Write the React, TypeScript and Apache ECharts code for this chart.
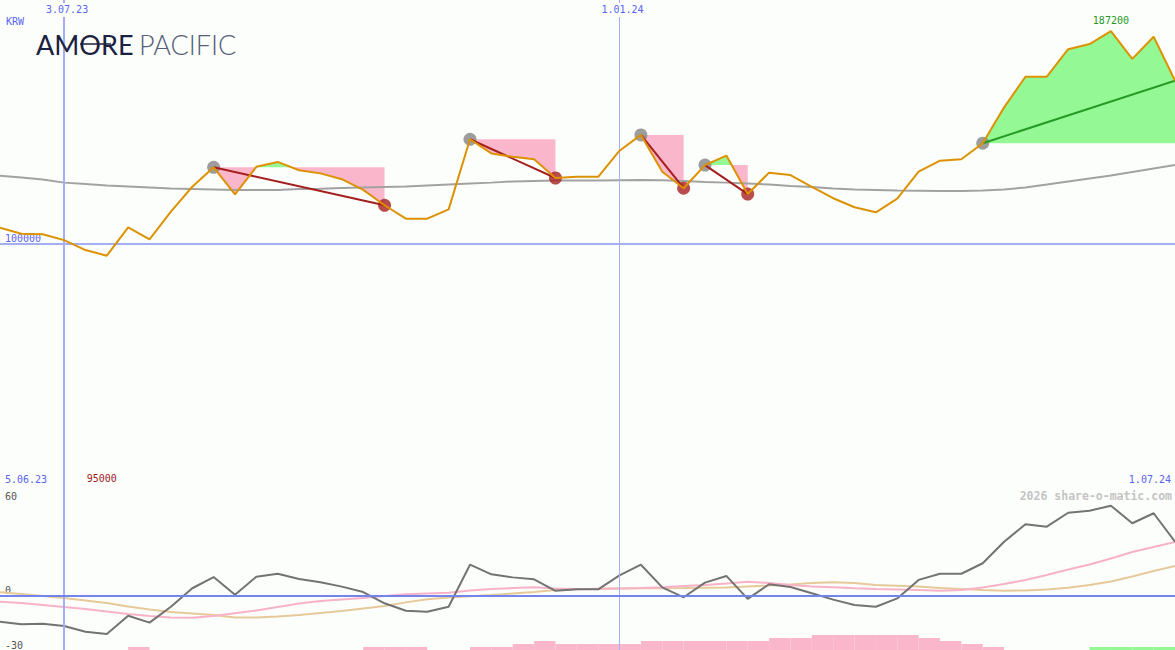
import React, { useEffect, useRef } from "react";
import * as echarts from "echarts";

// ---------- data ----------
const dates = [
  "12.06.23", "19.06.23", "26.06.23", "3.07.23", "10.07.23", "17.07.23", "24.07.23", "31.07.23",
  "7.08.23", "14.08.23", "21.08.23", "28.08.23", "4.09.23", "11.09.23", "18.09.23", "25.09.23",
  "2.10.23", "9.10.23", "16.10.23", "23.10.23", "30.10.23", "6.11.23", "13.11.23", "20.11.23",
  "27.11.23", "4.12.23", "11.12.23", "18.12.23", "25.12.23", "1.01.24", "8.01.24", "15.01.24",
  "22.01.24", "29.01.24", "5.02.24", "12.02.24", "19.02.24", "26.02.24", "4.03.24", "11.03.24",
  "18.03.24", "25.03.24", "1.04.24", "8.04.24", "15.04.24", "22.04.24", "29.04.24", "6.05.24",
  "13.05.24", "20.05.24", "27.05.24", "3.06.24", "10.06.24", "17.06.24", "24.06.24", "1.07.24",
];

const price = [
  106500, 104000, 103800, 101400, 97300, 95000, 106600, 101700, 113100, 123300,
  131300, 120200, 131500, 133500, 130100, 128800, 126400, 122000, 115700, 110200,
  110200, 114000, 142800, 137000, 135600, 134600, 126900, 127400, 127400, 138100,
  144600, 129500, 122700, 132200, 136100, 120300, 129100, 128100, 123300, 118600,
  114900, 112800, 118400, 129500, 134000, 134600, 141200, 155900, 168500, 168500,
  179800, 181900, 187200, 175800, 184900, 166900,
];

const movingAverage = [
  127800, 127100, 126300, 125000, 124400, 123800, 123400, 123000, 122600, 122400,
  122200, 122000, 122000, 122000, 122400, 122500, 122800, 123000, 123200, 123400,
  123800, 124200, 124600, 125000, 125500, 125700, 125900, 125900, 125900, 126000,
  126100, 126000, 125700, 125300, 125000, 124600, 124200, 123600, 123200, 122600,
  122200, 122000, 121800, 121700, 121600, 121600, 121800, 122200, 123000, 124200,
  125500, 126700, 127900, 129400, 130800, 132200,
];

const oscillator = [
  -14.4, -15.8, -15.5, -16.7, -19.9, -21.2, -11.1, -14.9, -6.1, 4.1,
  10.3, 0.5, 10.5, 12.1, 9.2, 7.4, 5.0, 2.0, -4.2, -8.3,
  -8.9, -6.1, 17.1, 11.8, 10.1, 9.0, 2.7, 3.5, 3.5, 11.2,
  17.1, 4.6, -0.9, 7.2, 10.9, -1.8, 6.3, 4.8, 1.3, -2.2,
  -5.2, -6.1, -1.5, 8.7, 12.1, 12.1, 17.9, 29.8, 39.4, 38.1,
  45.8, 46.9, 49.7, 40.0, 45.5, 29.8,
];

const oscFast = [
  -3.3, -4.1, -5.2, -6.3, -7.4, -8.7, -10.1, -11.2, -12.1, -12.2,
  -11.2, -9.7, -8.2, -6.3, -4.3, -2.9, -2.1, -1.3, -0.2, 0.8,
  1.2, 1.6, 2.9, 3.7, 4.2, 4.6, 4.0, 3.7, 3.8, 4.0,
  4.2, 4.6, 5.3, 5.9, 6.7, 7.7, 7.0, 5.9, 5.1, 4.6,
  4.1, 3.7, 3.4, 3.1, 2.7, 3.1, 4.5, 6.4, 8.7, 11.4,
  14.4, 17.2, 20.5, 24.1, 26.9, 29.6,
];

const oscSlow = [
  1.9, 0.9, -0.2, -1.3, -2.7, -4.1, -6.0, -7.6, -9.0, -9.8,
  -10.7, -12.1, -12.1, -11.5, -10.7, -9.6, -8.5, -7.1, -5.7, -3.7,
  -2.0, -1.0, -0.3, 0.4, 1.2, 2.0, 3.1, 3.5, 3.8, 4.0,
  4.1, 4.1, 4.2, 4.4, 4.5, 5.1, 5.6, 6.2, 7.0, 7.4,
  7.0, 5.9, 5.5, 5.1, 4.2, 3.7, 3.1, 2.7, 2.9, 3.4,
  4.4, 5.9, 7.8, 10.6, 13.6, 16.4,
];

// one value per week interval (55)
const pinkBars = [
  0, 0, 0, 0, 0, 0, 1, 0, 0, 0,
  0, 0, 0, 0, 0, 0, 0, 1, 1, 1,
  0, 0, 1, 1, 2, 3, 2, 2, 2, 2,
  3, 3, 3, 3, 3, 3, 4, 4, 5, 5,
  5, 5, 5, 4, 3, 2, 1, 0, 0, 0,
  0, 0, 0, 0, 0,
];
const greenBars = [
  0, 0, 0, 0, 0, 0, 0, 0, 0, 0,
  0, 0, 0, 0, 0, 0, 0, 0, 0, 0,
  0, 0, 0, 0, 0, 0, 0, 0, 0, 0,
  0, 0, 0, 0, 0, 0, 0, 0, 0, 0,
  0, 0, 0, 0, 0, 0, 0, 0, 0, 0,
  0, 1, 1, 1, 1,
];

const trendStart = [10, 22, 30, 33, 46];
const trendEnd = [18, 26, 32, 35, 55];
const trendOpen = [false, false, false, false, true];

const markedDates = ["3.07.23", "1.01.24"];
const periodLabels = ["5.06.23", "1.07.24"];
const currency = "KRW";
const watermark = "2026 share-o-matic.com";
const brand = ["AMORE", "PACIFIC"];

// ---------- styles ----------
const BG = "#fcfefc";
const BLUE_TEXT = "#5a64f2";
const GRID_BLUE = "#a4aef2";
const DIVIDER = "#7484ee";
const ORANGE = "#dc9200";
const GREY_MA = "#a2a2a2";
const PINK = "#fab6ca";
const GREEN = "#94f994";
const DARK_RED = "#a41e1e";
const TREND_GREEN = "#259a25";
const MONO = "DejaVu Sans Mono";

export default function App() {
  const ref = useRef<HTMLDivElement>(null);

  useEffect(() => {
    if (!ref.current) return;
    const chart = echarts.init(ref.current, null, { renderer: "svg" });

    const barDates = dates.slice(0, dates.length - 1);

    const fillSeries = {
      type: "custom",
      xAxisIndex: 0,
      yAxisIndex: 0,
      z: 1,
      silent: true,
      data: trendStart.map((s, i) => [s, trendEnd[i]]),
      renderItem: (params: any, api: any) => {
        const s = api.value(0) as number;
        const e = api.value(1) as number;
        const level = api.coord([s, price[s]])[1];
        const pts: number[][] = [];
        for (let k = s; k <= e; k++) pts.push(api.coord([k, price[k]]));
        const below: number[][] = [[pts[0][0], level]];
        const above: number[][] = [[pts[0][0], level]];
        for (let k = 0; k < pts.length; k++) {
          const [x, y] = pts[k];
          if (k > 0) {
            const [px, py] = pts[k - 1];
            if ((py - level) * (y - level) < 0) {
              const t = (level - py) / (y - py);
              const cx = px + t * (x - px);
              below.push([cx, level]);
              above.push([cx, level]);
            }
          }
          below.push([x, Math.max(y, level)]);
          above.push([x, Math.min(y, level)]);
        }
        const lastX = pts[pts.length - 1][0];
        below.push([lastX, level]);
        above.push([lastX, level]);
        return {
          type: "group",
          children: [
            { type: "polygon", shape: { points: below }, style: { fill: PINK } },
            { type: "polygon", shape: { points: above }, style: { fill: GREEN } },
          ],
        };
      },
    };

    const trendLines = trendStart.map((s, i) => ({
      type: "line",
      xAxisIndex: 0,
      yAxisIndex: 0,
      z: 4,
      silent: true,
      symbol: "none",
      data: [
        [s, price[s]],
        [trendEnd[i], price[trendEnd[i]]],
      ],
      lineStyle: { color: trendOpen[i] ? TREND_GREEN : DARK_RED, width: 2 },
    }));

    const option: any = {
      animation: false,
      backgroundColor: BG,
      grid: [
        { left: 0, right: 0, top: 0, height: 487 },
        { left: 0, right: 0, top: 487, height: 163 },
      ],
      xAxis: [
        {
          type: "category",
          gridIndex: 0,
          data: dates,
          boundaryGap: false,
          position: "top",
          z: 10,
          axisLine: { show: false },
          axisTick: { show: false },
          splitLine: { show: false },
          axisLabel: {
            inside: true,
            margin: 3,
            interval: (idx: number) => markedDates.includes(dates[idx]),
            color: BLUE_TEXT,
            fontFamily: MONO,
            fontSize: 10,
            backgroundColor: BG,
            padding: [1, 1, 3, 7],
          },
        },
        {
          type: "category",
          gridIndex: 1,
          data: dates,
          boundaryGap: false,
          position: "top",
          z: 10,
          axisLine: { show: true, lineStyle: { color: DIVIDER, width: 2 } },
          axisTick: { show: false },
          axisLabel: { show: false },
          splitLine: { show: false },
        },
        {
          type: "category",
          gridIndex: 1,
          data: barDates,
          boundaryGap: true,
          show: false,
        },
      ],
      yAxis: [
        {
          type: "value",
          gridIndex: 0,
          position: "left",
          min: 0,
          max: 200000,
          interval: 100000,
          name: currency,
          nameLocation: "end",
          nameGap: -21,
          nameTextStyle: {
            align: "left",
            verticalAlign: "middle",
            color: BLUE_TEXT,
            fontFamily: MONO,
            fontSize: 10,
            padding: [0, 0, 0, 6],
          },
          axisLine: { show: false },
          axisTick: { show: false },
          axisLabel: {
            inside: true,
            margin: 5,
            verticalAlign: "bottom",
            showMinLabel: false,
            showMaxLabel: false,
            color: BLUE_TEXT,
            fontFamily: MONO,
            fontSize: 10,
            formatter: (v: number) => String(v),
          },
          splitLine: {
            show: true,
            showMinLine: false,
            showMaxLine: false,
            lineStyle: { color: GRID_BLUE, width: 2 },
          },
        },
        {
          type: "value",
          gridIndex: 1,
          position: "left",
          min: -30,
          max: 60,
          interval: 30,
          axisLine: { show: false },
          axisTick: { show: false },
          splitLine: { show: false },
          axisLabel: {
            inside: true,
            margin: 5,
            verticalAlign: "bottom",
            color: "#555555",
            fontFamily: MONO,
            fontSize: 10,
            formatter: (v: number) => (v <= 0 ? String(v) : ""),
          },
        },
        {
          type: "value",
          gridIndex: 1,
          position: "left",
          offset: 0,
          min: -30,
          max: 60,
          interval: 30,
          axisLine: { show: false, onZero: false },
          axisTick: { show: false },
          splitLine: { show: false },
          axisLabel: {
            inside: true,
            margin: 5,
            verticalAlign: "top",
            padding: [4, 0, 0, 0],
            color: "#555555",
            fontFamily: MONO,
            fontSize: 10,
            showMinLabel: false,
            formatter: (v: number) => (v === 60 ? String(v) : ""),
          },
        },
        {
          type: "value",
          gridIndex: 1,
          position: "right",
          min: 0,
          max: 163 / 3,
          show: false,
        },
      ],
      series: [
        fillSeries,
        {
          type: "line",
          name: "MA",
          xAxisIndex: 0,
          yAxisIndex: 0,
          z: 2,
          silent: true,
          symbol: "none",
          data: movingAverage,
          lineStyle: { color: GREY_MA, width: 2 },
          markLine: {
            silent: true,
            symbol: "none",
            label: { show: false },
            lineStyle: { color: GRID_BLUE, type: "solid" },
            data: markedDates.map((d, i) => ({
              xAxis: d,
              lineStyle: { color: GRID_BLUE, type: "solid", width: i === 0 ? 2 : 1 },
            })),
          },
        },
        {
          type: "scatter",
          xAxisIndex: 0,
          yAxisIndex: 0,
          z: 3,
          silent: true,
          symbolSize: 13,
          itemStyle: { color: "#858585" },
          data: trendStart.map((s) => [s, price[s]]),
        },
        {
          type: "scatter",
          xAxisIndex: 0,
          yAxisIndex: 0,
          z: 3,
          silent: true,
          symbolSize: 13,
          itemStyle: { color: "#a82020" },
          data: trendEnd.filter((_, i) => !trendOpen[i]).map((e) => [e, price[e]]),
        },
        ...trendLines,
        {
          type: "line",
          name: "Price",
          xAxisIndex: 0,
          yAxisIndex: 0,
          z: 5,
          silent: true,
          symbol: "none",
          data: price,
          lineStyle: { color: ORANGE, width: 2 },
          markPoint: {
            symbol: "circle",
            symbolSize: 1,
            itemStyle: { color: "rgba(0,0,0,0)" },
            label: {
              show: true,
              fontFamily: MONO,
              fontSize: 10,
              formatter: (p: any) => String(p.value),
            },
            data: [
              { type: "max", label: { color: "#229922", offset: [0, -11] } },
              { type: "min", label: { color: "#a02020", offset: [-5, 223] } },
            ],
          },
        },
        // lower panel
        {
          type: "bar",
          xAxisIndex: 2,
          yAxisIndex: 3,
          z: 1,
          silent: true,
          barWidth: "100%",
          barGap: "-100%",
          itemStyle: { color: PINK },
          data: pinkBars,
        },
        {
          type: "bar",
          xAxisIndex: 2,
          yAxisIndex: 3,
          z: 1,
          silent: true,
          barWidth: "100%",
          barGap: "-100%",
          itemStyle: { color: GREEN },
          data: greenBars,
        },
        {
          type: "line",
          xAxisIndex: 1,
          yAxisIndex: 1,
          z: 2,
          silent: true,
          symbol: "none",
          data: oscSlow,
          lineStyle: { color: "#e6c998", width: 2 },
          markLine: {
            silent: true,
            symbol: "none",
            label: { show: false },
            data: [
              ...markedDates.map((d, i) => ({
                xAxis: d,
                lineStyle: { color: GRID_BLUE, type: "solid", width: i === 0 ? 2 : 1 },
              })),
              { yAxis: 0, lineStyle: { color: GRID_BLUE, type: "solid", width: 2 } },
            ],
          },
        },
        {
          type: "line",
          xAxisIndex: 1,
          yAxisIndex: 1,
          z: 3,
          silent: true,
          symbol: "none",
          data: oscFast,
          lineStyle: { color: "#f8b2c8", width: 2 },
        },
        {
          type: "line",
          xAxisIndex: 1,
          yAxisIndex: 1,
          z: 4,
          silent: true,
          symbol: "none",
          data: oscillator,
          lineStyle: { color: "#737373", width: 2 },
        },
      ],
      graphic: [
        {
          type: "text",
          x: 36,
          y: 44,
          z: 20,
          style: {
            text: brand[0],
            font: "400 27px Lato",
            fill: "#1b2140",
            verticalAlign: "middle",
            align: "left",
          },
        },
        {
          type: "line",
          z: 21,
          shape: { x1: 80, y1: 44, x2: 111, y2: 44 },
          style: { stroke: "#1b2140", lineWidth: 1.5 },
        },
        {
          type: "text",
          x: 139,
          y: 44,
          z: 20,
          style: {
            text: brand[1],
            font: "300 27px Lato",
            fill: "#565d78",
            verticalAlign: "middle",
            align: "left",
          },
        },
        {
          type: "text",
          x: 5,
          y: 479,
          z: 20,
          style: {
            text: periodLabels[0],
            font: `10px "${MONO}"`,
            fill: BLUE_TEXT,
            verticalAlign: "middle",
            align: "left",
          },
        },
        {
          type: "text",
          x: 1171,
          y: 479,
          z: 20,
          style: {
            text: periodLabels[1],
            font: `10px "${MONO}"`,
            fill: BLUE_TEXT,
            verticalAlign: "middle",
            align: "right",
          },
        },
        {
          type: "text",
          x: 1172,
          y: 496,
          z: 20,
          style: {
            text: watermark,
            font: `bold 11.5px "${MONO}"`,
            fill: "#c4c4c4",
            verticalAlign: "middle",
            align: "right",
          },
        },
      ],
    };

    chart.setOption(option);
    return () => chart.dispose();
  }, []);

  return (
    <div
      ref={ref}
      style={{ position: "absolute", left: 0, top: 0, width: 1175, height: 650, background: BG }}
    />
  );
}
